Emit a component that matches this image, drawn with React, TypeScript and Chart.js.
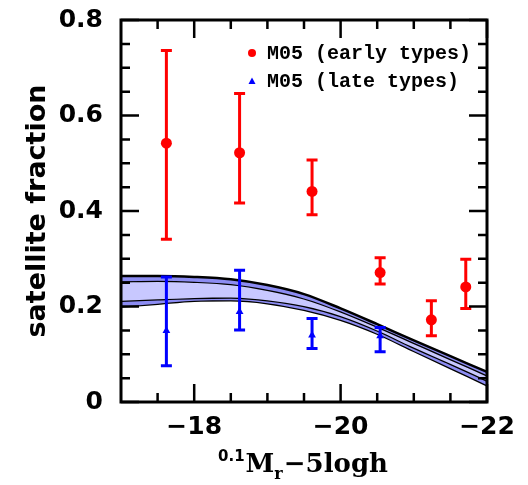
import React, { useEffect, useRef } from 'react';
import { Chart, registerables } from 'chart.js';
Chart.register(...registerables);

// ---- data ----
const xTickLabels = [-18, -20, -22];
const yTickLabels = [0, 0.2, 0.4, 0.6, 0.8];
const xMinorTicks = [-17.5, -18.5, -19, -19.5, -20.5, -21, -21.5];
const yMinorTicks = [0.05, 0.1, 0.15, 0.25, 0.3, 0.35, 0.45, 0.5, 0.55, 0.65, 0.7, 0.75];

const earlyLabel = 'M05 (early types)';
const earlyX = [-17.62, -18.62, -19.61, -20.54, -21.24, -21.71];
const earlyY = [0.542, 0.522, 0.441, 0.271, 0.172, 0.241];
const earlyHi = [0.736, 0.646, 0.507, 0.302, 0.212, 0.299];
const earlyLo = [0.341, 0.417, 0.392, 0.247, 0.139, 0.196];

const lateLabel = 'M05 (late types)';
const lateX = [-17.62, -18.62, -19.61, -20.54];
const lateY = [0.149, 0.189, 0.14, 0.138];
const lateHi = [0.262, 0.276, 0.175, 0.156];
const lateLo = [0.076, 0.151, 0.112, 0.105];

const bandX = [-17, -17.5, -18, -18.5, -19, -19.5, -20, -20.5, -21, -21.5, -22];
const upperOuter = [0.264, 0.264, 0.262, 0.257, 0.245, 0.226, 0.196, 0.163, 0.129, 0.096, 0.063];
const upperInner = [0.253, 0.254, 0.252, 0.247, 0.235, 0.217, 0.19, 0.158, 0.124, 0.09, 0.056];
const lowerInner = [0.212, 0.215, 0.218, 0.219, 0.213, 0.201, 0.18, 0.15, 0.114, 0.08, 0.045];
const lowerOuter = [0.2, 0.206, 0.212, 0.213, 0.207, 0.193, 0.172, 0.143, 0.107, 0.071, 0.035];

const RED = '#ff0000';
const BLUE = '#0000ff';
const LIGHT = '#c8c8ff';
const MED = '#8c8cf2';

const pts = (xs: number[], ys: number[]) => xs.map((x, i) => ({ x, y: ys[i] }));

const errorBars = {
  id: 'errorBars',
  afterDatasetsDraw(chart: any) {
    const { ctx, scales } = chart;
    const xs = scales.x, ys = scales.y;
    ctx.save();
    chart.data.datasets.forEach((ds: any) => {
      if (!ds.errLo) return;
      ctx.strokeStyle = ds.borderColor;
      ctx.lineWidth = 3;
      ds.data.forEach((p: any, i: number) => {
        const px = xs.getPixelForValue(p.x);
        const lo = ys.getPixelForValue(ds.errLo[i]);
        const hi = ys.getPixelForValue(ds.errHi[i]);
        ctx.beginPath();
        ctx.moveTo(px, lo); ctx.lineTo(px, hi);
        ctx.moveTo(px - 5.5, lo); ctx.lineTo(px + 5.5, lo);
        ctx.moveTo(px - 5.5, hi); ctx.lineTo(px + 5.5, hi);
        ctx.stroke();
      });
    });
    ctx.restore();
  },
};

const frame = {
  id: 'frame',
  afterDraw(chart: any) {
    const { ctx, chartArea: a, scales } = chart;
    const xs = scales.x, ys = scales.y;
    ctx.save();
    ctx.strokeStyle = '#000';
    ctx.lineWidth = 2.5;
    ctx.lineCap = 'butt';
    const vt = (v: number, len: number) => {
      const px = xs.getPixelForValue(v);
      ctx.beginPath();
      ctx.moveTo(px, a.bottom); ctx.lineTo(px, a.bottom - len);
      ctx.moveTo(px, a.top); ctx.lineTo(px, a.top + len);
      ctx.stroke();
    };
    const ht = (v: number, len: number) => {
      const py = ys.getPixelForValue(v);
      ctx.beginPath();
      ctx.moveTo(a.left, py); ctx.lineTo(a.left + len, py);
      ctx.moveTo(a.right, py); ctx.lineTo(a.right - len, py);
      ctx.stroke();
    };
    xMinorTicks.forEach((v) => vt(v, 9));
    xTickLabels.forEach((v) => vt(v, 18));
    yMinorTicks.forEach((v) => ht(v, 9));
    yTickLabels.forEach((v) => ht(v, 18));
    ctx.lineWidth = 3;
    ctx.strokeRect(a.left, a.top, a.right - a.left, a.bottom - a.top);

    // legend
    ctx.font = 'bold 20px "Liberation Mono"';
    ctx.textBaseline = 'middle';
    ctx.textAlign = 'left';
    ctx.fillStyle = RED;
    ctx.beginPath(); ctx.arc(252, 53, 4, 0, Math.PI * 2); ctx.fill();
    ctx.fillStyle = '#000';
    ctx.fillText(earlyLabel, 267, 54);
    ctx.fillStyle = BLUE;
    ctx.beginPath(); ctx.moveTo(248.5, 84); ctx.lineTo(255.5, 84); ctx.lineTo(252, 77.5); ctx.closePath(); ctx.fill();
    ctx.fillStyle = '#000';
    ctx.fillText(lateLabel, 267, 82);

    // x title
    ctx.textBaseline = 'alphabetic';
    let x = 218;
    ctx.font = 'bold 15px "DejaVu Sans"';
    ctx.fillText('0.1', x, 461);
    x += ctx.measureText('0.1').width + 1;
    ctx.font = 'bold 26px "DejaVu Serif"';
    ctx.fillText('M', x, 472);
    x += ctx.measureText('M').width;
    ctx.font = 'bold 16px "DejaVu Serif"';
    ctx.fillText('r', x, 479);
    x += ctx.measureText('r').width + 1;
    ctx.font = 'bold 26px "DejaVu Serif"';
    ctx.fillText('\u22125logh', x, 472);
    ctx.restore();
  },
};

export default function App() {
  const ref = useRef<HTMLCanvasElement>(null);
  useEffect(() => {
    document.body.style.margin = '0';
    const line = { showLine: true, borderColor: '#000', borderWidth: 2.5, pointRadius: 0, cubicInterpolationMode: 'monotone' };
    const chart = new Chart(ref.current!, {
      type: 'scatter',
      data: {
        datasets: [
          { label: earlyLabel, data: pts(earlyX, earlyY), errLo: earlyLo, errHi: earlyHi, borderColor: RED, backgroundColor: RED, pointRadius: 5.5, pointBorderWidth: 0, order: 0 } as any,
          { label: lateLabel, data: pts(lateX, lateY), errLo: lateLo, errHi: lateHi, borderColor: BLUE, backgroundColor: BLUE, pointStyle: 'triangle', pointRadius: 4.5, pointBorderWidth: 0, order: 0 } as any,
          { ...line, data: pts(bandX, upperOuter), fill: '+1', backgroundColor: MED, order: 1 },
          { ...line, data: pts(bandX, upperInner), fill: '+1', backgroundColor: LIGHT, order: 2 },
          { ...line, data: pts(bandX, lowerInner), fill: '+1', backgroundColor: MED, order: 3 },
          { ...line, data: pts(bandX, lowerOuter), fill: false, order: 4 },
        ],
      },
      options: {
        responsive: false,
        animation: false,
        layout: { padding: { left: 0, right: 41, top: 20, bottom: 0 } },
        plugins: { legend: { display: false }, tooltip: { enabled: false } },
        scales: {
          x: {
            type: 'linear', min: -22, max: -17, reverse: true,
            afterBuildTicks: (s: any) => { s.ticks = xTickLabels.map((v) => ({ value: v })); },
            afterFit: (s: any) => { s.height = 83; s.paddingLeft = 0; s.paddingRight = 0; },
            grid: { display: false, drawTicks: false },
            border: { display: false },
            ticks: {
              padding: 10, color: '#000', maxRotation: 0, autoSkip: false,
              font: { family: 'DejaVu Sans', weight: 'bold', size: 25 },
              callback: (v: any) => '\u2212' + Math.abs(v),
            },
          },
          y: {
            type: 'linear', min: 0, max: 0.8,
            afterBuildTicks: (s: any) => { s.ticks = yTickLabels.map((v) => ({ value: v })); },
            afterFit: (s: any) => { s.width = 121; s.paddingTop = 0; s.paddingBottom = 0; },
            grid: { display: false, drawTicks: false },
            border: { display: false },
            ticks: {
              padding: 18, color: '#000', autoSkip: false,
              font: { family: 'DejaVu Sans', weight: 'bold', size: 25 },
              callback: (v: any) => (v === 0 ? '0' : String(v)),
            },
            title: {
              display: true, text: 'satellite fraction', color: '#000',
              font: { family: 'DejaVu Sans', weight: 'bold', size: 27 },
              padding: { top: 22, bottom: 0 },
            },
          },
        },
      },
      plugins: [errorBars, frame],
    } as any);
    return () => chart.destroy();
  }, []);
  return (
    <div style={{ width: 528, height: 485 }}>
      <canvas ref={ref} width={528} height={485} style={{ display: 'block' }} />
    </div>
  );
}
